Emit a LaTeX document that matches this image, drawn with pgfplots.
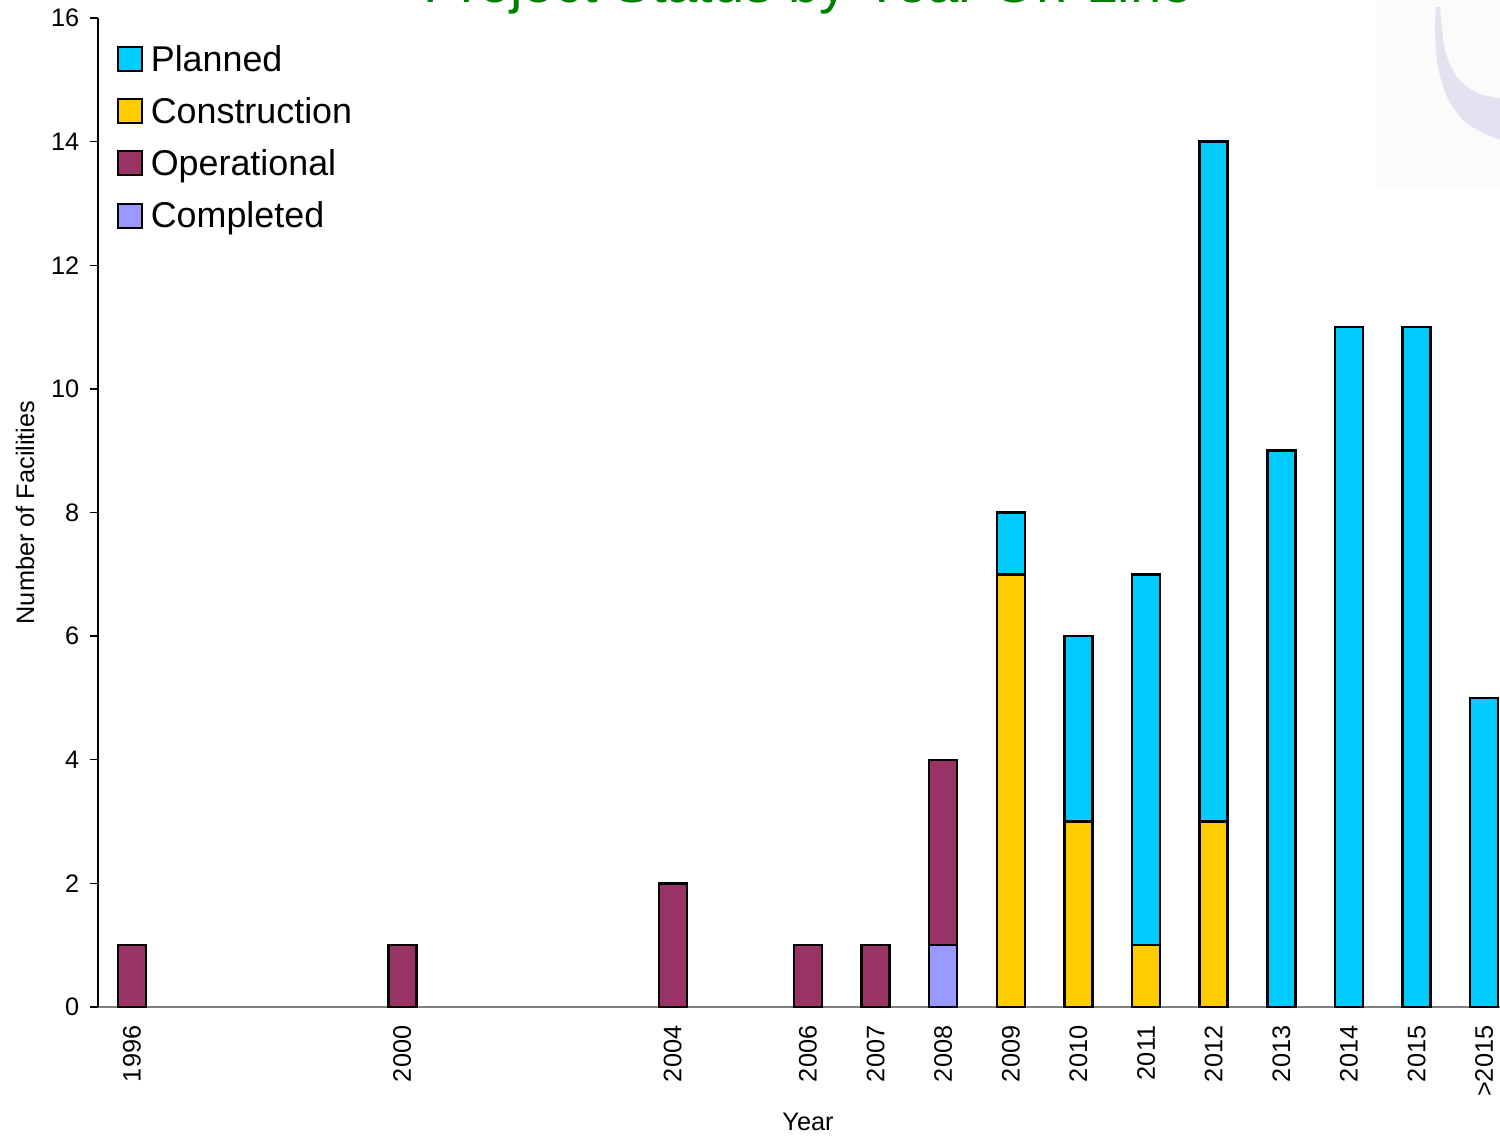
\documentclass[border=0pt]{standalone}
\usepackage{fontspec}
\setmainfont{Liberation Sans}
\usepackage{pgfplots}
\pgfplotsset{compat=1.18}
\usepackage{pgfplotstable}

\definecolor{planned}{RGB}{0,204,255}
\definecolor{constr}{RGB}{255,204,0}
\definecolor{operat}{RGB}{153,51,102}
\definecolor{complet}{RGB}{153,153,255}
\definecolor{titlegreen}{RGB}{0,128,0}
\definecolor{moon}{RGB}{228,226,240}
\definecolor{paper}{RGB}{251,251,252}

% year position, then Completed, Operational, Construction, Planned
\pgfplotstableread{
pos comp op cons plan
0   0 1 0 0
4   0 1 0 0
8   0 2 0 0
10  0 1 0 0
11  0 1 0 0
12  1 3 0 0
13  0 0 7 1
14  0 0 3 3
15  0 0 1 6
16  0 0 3 11
17  0 0 0 9
18  0 0 0 11
19  0 0 0 11
20  0 0 0 5
}\status

\begin{document}
\begin{tikzpicture}
  \useasboundingbox (0,0) rectangle (15,11.36);
  \clip (0,0) rectangle (15,11.36);
  % faint watermark in the corner
  \fill[paper] (13.76,9.48) rectangle (15,11.36);
  \fill[moon] plot[smooth] coordinates {(14.36,11.29) (14.35,11.03) (14.38,10.69) (14.47,10.39) (14.63,10.16) (14.83,10.03) (15.0,9.96)}
    -- plot[smooth] coordinates {(15.0,10.38) (14.77,10.43) (14.57,10.59) (14.45,10.86) (14.40,11.29)} -- cycle;
  \node[anchor=base, text=titlegreen, font=\fontsize{16}{19}\selectfont] at (8.08,11.34) {Project Status by Year On-Line};
  \begin{axis}[
      at={(0.98cm,1.29cm)}, anchor=south west,
      scale only axis, width=14.20cm, height=9.89cm,
      ybar stacked, bar width=0.28cm,
      xmin=-0.5, xmax=20.5, ymin=0, ymax=16,
      axis x line*=bottom, axis y line*=left,
      x axis line style={draw=gray, line width=0.4pt},
      y axis line style={draw=black, line width=0.4pt},
      xtick={0,4,8,10,11,12,13,14,15,16,17,18,19,20},
      xticklabels={1996,2000,2004,2006,2007,2008,2009,2010,2011,2012,2013,2014,2015,>2015},
      xtick style={draw=none},
      ytick={0,2,...,16},
      tick align=outside, major tick length=0.08cm,
      ytick style={draw=black, line width=0.4pt},
      ticklabel style={font=\fontsize{7.2}{8.5}\selectfont},
      xticklabel style={rotate=90, anchor=east, inner sep=0pt, xshift=-0.1cm},
      yticklabel style={inner sep=0pt, xshift=-0.1cm},
      /pgf/number format/assume math mode=true,
      xlabel={Year}, ylabel={Number of Facilities},
      label style={font=\fontsize{7.2}{8.5}\selectfont},
      xlabel style={at={(axis description cs:0.5,-0.1163)}, anchor=center},
      ylabel style={at={(axis description cs:-0.0514,0.5)}, anchor=center},
      every axis plot/.append style={draw=black, line width=0.7pt},
      legend image code/.code={\draw[#1, line width=0.6pt] (0cm,-0.1cm) rectangle (0.24cm,0.14cm);},
      reverse legend,
      legend cell align=left,
      legend style={draw=none, fill=none, at={(0.08cm,9.74cm)}, anchor=north west,
        font=\fontsize{10.2}{12}\selectfont, row sep=0.12cm, column sep=0.03cm,
        nodes={inner sep=0.045cm}},
    ]
    \addplot[fill=complet] table[x=pos, y=comp] {\status};
    \addplot[fill=operat] table[x=pos, y=op] {\status};
    \addplot[fill=constr] table[x=pos, y=cons] {\status};
    \addplot[fill=planned] table[x=pos, y=plan] {\status};
    \legend{Completed,Operational,Construction,Planned}
  \end{axis}
\end{tikzpicture}
\end{document}
